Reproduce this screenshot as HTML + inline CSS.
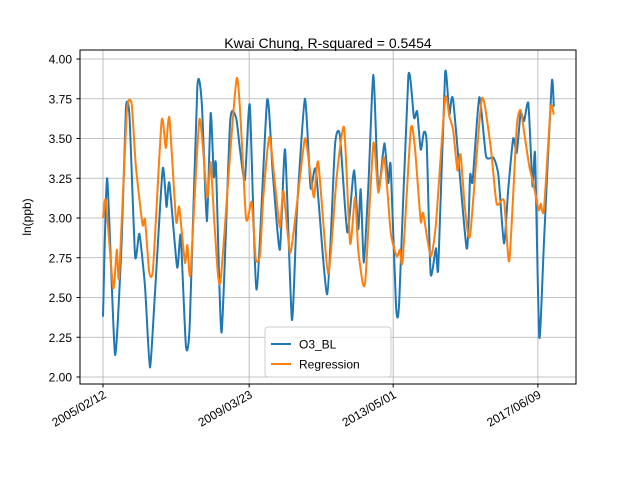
<!DOCTYPE html>
<html><head><meta charset="utf-8"><style>
body{margin:0;background:#fff;}
svg text{font-family:"Liberation Sans","DejaVu Sans",sans-serif;fill:#000;}
</style></head><body>
<svg id="chart" width="640" height="480" viewBox="0 0 640 480" xmlns="http://www.w3.org/2000/svg">
<rect width="640" height="480" fill="#fff"/>
<g id="grid"></g>
<g id="series"></g>
<rect x="80" y="50" width="496" height="334" fill="none" stroke="#000" stroke-width="1"/>
<g id="axes"></g>
<text x="328" y="48" font-size="14" text-anchor="middle">Kwai Chung, R-squared = 0.5454</text>
<text transform="translate(31,217) rotate(-90)" font-size="12" text-anchor="middle">ln(ppb)</text>
<g>
<rect x="265" y="327" width="126" height="50" rx="3" fill="#fff" fill-opacity="0.8" stroke="#ccc"/>
<line x1="271" y1="344" x2="291" y2="344" stroke="#1f77b4" stroke-width="2"/>
<text x="299" y="348.5" font-size="12">O3_BL</text>
<line x1="271" y1="364" x2="291" y2="364" stroke="#ff7f0e" stroke-width="2"/>
<text x="299" y="368.5" font-size="12">Regression</text>
</g>
</svg>
<script>
// time in years since 2005/02/12
const blueT=[0,0.12,0.34,0.53,0.65,0.75,0.91,1.03,1.19,1.33,1.47,1.69,1.80,1.88,2.10,2.20,2.35,2.46,2.67,2.80,2.94,3.05,3.14,3.20,3.36,3.60,3.77,3.88,4.02,4.16,4.35,4.65,4.81,5.01,5.16,5.35,5.50,5.72,5.88,6.03,6.35,6.57,6.71,6.92,7.11,7.23,7.30,7.39,7.52,7.66,7.80,7.97,8.08,8.15,8.30,8.39,8.65,8.81,8.90,9.00,9.09,9.17,9.28,9.43,9.50,9.69,9.81,9.92,10.30,10.40,10.47,10.66,10.85,11.06,11.20,11.36,11.48,11.62,11.72,11.83,11.93,12.05,12.17,12.24,12.36,12.49,12.71,12.77];
const blueV=[2.38,3.25,2.14,2.86,3.69,3.64,2.76,2.90,2.57,2.06,2.52,3.31,3.07,3.22,2.69,2.89,2.19,2.34,3.82,3.72,2.98,3.66,3.26,3.33,2.28,3.60,3.63,3.43,3.24,3.71,2.55,3.74,3.28,2.80,3.43,2.36,3.07,3.75,3.19,3.30,2.52,3.45,3.52,2.91,3.30,2.93,3.18,2.72,3.22,3.90,3.18,3.47,3.22,3.33,2.45,2.47,3.89,3.63,3.67,3.43,3.54,3.47,2.65,2.81,2.69,3.91,3.65,3.74,2.81,3.27,3.23,3.76,3.39,3.38,3.27,2.84,3.18,3.50,3.41,3.66,3.61,3.72,3.20,3.40,2.25,2.84,3.85,3.70];
const orangeT=[0,0.08,0.29,0.39,0.46,0.67,0.81,0.93,1.12,1.19,1.31,1.42,1.66,1.78,1.88,2.07,2.16,2.32,2.39,2.48,2.73,2.95,3.05,3.17,3.33,3.79,4.05,4.21,4.33,4.45,4.54,4.71,4.87,5.01,5.11,5.30,5.49,5.72,5.86,5.98,6.10,6.38,6.62,6.83,7.00,7.14,7.23,7.36,7.44,7.66,7.80,7.97,8.15,8.32,8.41,8.49,8.72,8.84,9.00,9.07,9.28,9.43,9.69,9.81,9.92,10.04,10.13,10.25,10.40,10.73,10.98,11.15,11.36,11.51,11.72,11.83,11.93,12.08,12.19,12.34,12.40,12.49,12.68,12.77];
const orangeV=[3.00,3.11,2.56,2.80,2.63,3.66,3.72,3.33,2.96,2.99,2.66,2.69,3.61,3.44,3.63,2.98,3.07,2.72,2.83,2.65,3.62,3.13,3.35,2.92,2.60,3.88,3.00,3.10,2.74,2.77,3.13,3.51,3.22,2.94,3.17,2.78,3.08,3.50,3.30,3.13,3.35,2.65,3.26,3.57,2.84,3.13,2.80,2.59,2.63,3.47,3.16,3.38,2.91,2.76,2.80,2.73,3.56,3.43,2.98,3.03,2.76,2.96,3.75,3.64,3.55,3.30,3.40,3.07,2.89,3.75,3.45,3.09,3.11,2.73,3.57,3.68,3.54,3.32,3.22,3.05,3.09,3.05,3.69,3.65];
const xTickT=[0,4.14,8.22,12.32];
const xTickLabels=["2005/02/12","2009/03/23","2013/05/01","2017/06/09"];
const yTicks=[2.00,2.25,2.50,2.75,3.00,3.25,3.50,3.75,4.00];

const NS="http://www.w3.org/2000/svg";
const xs=t=>103+t*35.3;
const ys=v=>377-(v-2)*159;
function mk(tag,attrs,parent){const e=document.createElementNS(NS,tag);for(const k in attrs)e.setAttribute(k,attrs[k]);parent.appendChild(e);return e;}
const grid=document.getElementById('grid'),axes=document.getElementById('axes'),series=document.getElementById('series');
yTicks.forEach(v=>{
  const y=ys(v);
  const g=mk('line',{x1:80,x2:576,y1:y,y2:y,stroke:'#b0b0b0','stroke-width':0.8},grid);
  
  
  mk('line',{x1:76.5,x2:80,y1:y,y2:y,stroke:'#000'},axes);
  const t=mk('text',{x:72,y:y+4.5,'font-size':12,'text-anchor':'end'},axes);
  t.textContent=v.toFixed(2);
  
  
});
xTickT.forEach((tt,i)=>{
  const x=xs(tt);
  const g=mk('line',{x1:x,x2:x,y1:50,y2:384,stroke:'#b0b0b0','stroke-width':0.8},grid);
  
  
  mk('line',{x1:x,x2:x,y1:384,y2:387.5,stroke:'#000'},axes);
  const t=mk('text',{transform:`translate(${x+4},${397}) rotate(-30)`,'font-size':12,'text-anchor':'end'},axes);
  t.textContent=xTickLabels[i];
  
  
});
function line(T,V,color,name){
  const P=T.map((t,i)=>[xs(t),ys(V[i])]);
  let d='M'+P[0][0].toFixed(1)+','+P[0][1].toFixed(1);
  const k=10;
  for(let i=0;i<P.length-1;i++){
    const p0=P[Math.max(0,i-1)],p1=P[i],p2=P[i+1],p3=P[Math.min(P.length-1,i+2)];
    const c1=[p1[0]+(p2[0]-p0[0])/k,p1[1]+(p2[1]-p0[1])/k];
    const c2=[p2[0]-(p3[0]-p1[0])/k,p2[1]-(p3[1]-p1[1])/k];
    d+=` C${c1[0].toFixed(1)},${c1[1].toFixed(1)} ${c2[0].toFixed(1)},${c2[1].toFixed(1)} ${p2[0].toFixed(1)},${p2[1].toFixed(1)}`;
  }
  const p=mk('path',{d:d,fill:'none',stroke:color,'stroke-width':2,'stroke-linejoin':'round'},series);
  
  
}
line(blueT,blueV,'#1f77b4','o3-bl-line');
line(orangeT,orangeV,'#ff7f0e','regression-line');
</script>
</body></html>
